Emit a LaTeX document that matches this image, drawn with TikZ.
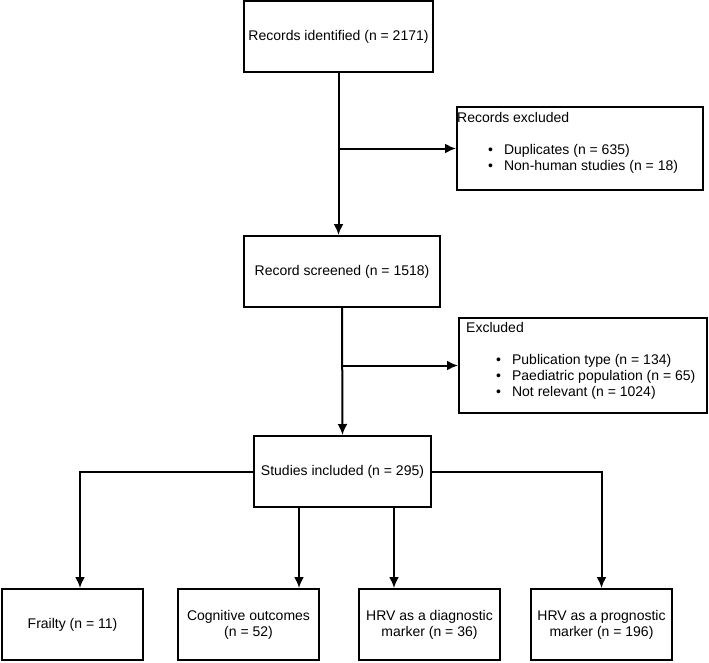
\documentclass[tikz,border=0pt]{standalone}
\usepackage{fontspec}
\setmainfont{Liberation Sans}
\usetikzlibrary{arrows.meta}
\begin{document}
\begin{tikzpicture}[x=1pt,y=-1pt,
    box/.style={draw,line width=2pt,minimum height=71pt,inner sep=2pt,align=center,font=\fontsize{14}{16}\selectfont},
    lst/.style={anchor=north west,align=left,inner sep=0pt,font=\fontsize{14}{16}\selectfont},
    arr/.style={-{Latex[length=11pt,width=10pt]},line width=2pt}]
            \useasboundingbox (0,0) rectangle (709,662);
            \node[box,minimum width=189pt] (ident) at (338.5,36.5) {Records identified (n = 2171)};
            \node[box,minimum width=246pt,minimum height=83pt] (excl1) at (580,148.5) {};
            \node[lst] (excl1txt) at ([xshift=1pt,yshift=-6pt]excl1.north west) {Records excluded\\[16pt]\hspace*{31pt}\textbullet\hspace{11pt}Duplicates (n = 635)\\\hspace*{31pt}\textbullet\hspace{11pt}Non-human studies (n = 18)};
            \node[box,minimum width=196pt] (screen) at (342,271.5) {Record screened (n = 1518)};
            \node[box,minimum width=248pt,minimum height=95pt] (excl2) at (583,365.5) {};
            \node[lst] (excl2txt) at ([xshift=8pt,yshift=-5pt]excl2.north west) {Excluded\\[16pt]\hspace*{30pt}\textbullet\hspace{11pt}Publication type (n = 134)\\\hspace*{30pt}\textbullet\hspace{11pt}Paediatric population (n = 65)\\\hspace*{30pt}\textbullet\hspace{11pt}Not relevant (n = 1024)};
            \node[box,minimum width=177pt] (incl) at (342.5,471.5) {Studies included (n = 295)};
            \node[box,minimum width=141pt] (frail) at (72.5,624.5) {Frailty (n = 11)};
            \node[box,minimum width=141pt] (cog) at (248.5,624.5) {Cognitive outcomes\\(n = 52)};
            \node[box,minimum width=141pt] (diag) at (429.5,624.5) {HRV as a diagnostic\\marker (n = 36)};
            \node[box,minimum width=141pt] (prog) at (601.5,624.5) {HRV as a prognostic\\marker (n = 196)};
            \draw[arr] (ident.south) -- (ident.south |- screen.north);
            \draw[arr] (ident.south |- excl1.west) -- (excl1.west);
            \draw[arr] (screen.south) -- (incl.north);
            \draw[arr] (screen.south |- excl2.west) -- (excl2.west);
            \draw[arr] (incl.west) -| ([xshift=7.5pt]frail.north);
            \draw[arr] ([xshift=-43.5pt]incl.south) -- ([xshift=50.5pt]cog.north);
            \draw[arr] ([xshift=51.5pt]incl.south) -- ([xshift=-35.5pt]diag.north);
            \draw[arr] (incl.east) -| (prog.north);
        \end{tikzpicture}
\end{document}
